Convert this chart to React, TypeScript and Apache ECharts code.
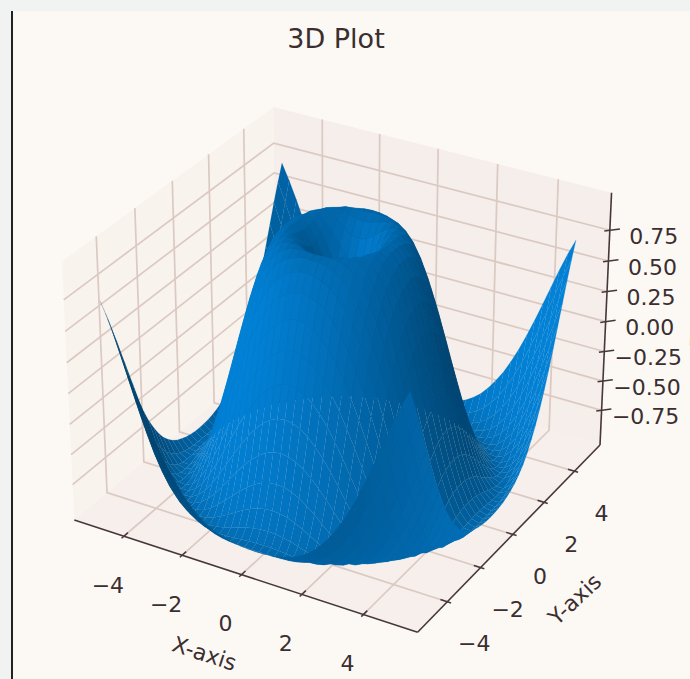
import React, { useEffect, useRef } from "react";
import * as echarts from "echarts";

const titleText = "3D Plot";
const xLabel = "X-axis";
const yLabel = "Y-axis";
const zLabel = "Z-axis";
const xTicks = [-4, -2, 0, 2, 4];
const yTicks = [-4, -2, 0, 2, 4];
const zTicks = [-0.75, -0.5, -0.25, 0, 0.25, 0.5, 0.75];
const xTickLabels = ["−4", "−2", "0", "2", "4"];
const yTickLabels = ["−4", "−2", "0", "2", "4"];
const zTickLabels = ["−0.75", "−0.50", "−0.25", "0.00", "0.25", "0.50", "0.75"];

// distance from the centre along X or Y for each row of the table below
const gridSteps = [0, 0.25, 0.5, 0.75, 1, 1.25, 1.5, 1.75, 2, 2.25, 2.5, 2.75, 3, 3.25, 3.5, 3.75, 4, 4.25, 4.5, 4.75, 5];

// surface heights read for one eighth of the (symmetric) surface: row i holds columns j = i..20
const surfaceHeights = [
  [0, 0.247, 0.479, 0.682, 0.841, 0.949, 0.997, 0.984, 0.909, 0.778, 0.598, 0.382, 0.141, -0.108, -0.351, -0.572, -0.757, -0.895, -0.978, -0.999, -0.959],
  [0.346, 0.53, 0.711, 0.857, 0.957, 0.999, 0.981, 0.903, 0.77, 0.589, 0.373, 0.131, -0.118, -0.359, -0.579, -0.762, -0.899, -0.98, -0.999, -0.957],
  [0.65, 0.784, 0.899, 0.975, 1, 0.969, 0.882, 0.742, 0.558, 0.34, 0.1, -0.146, -0.384, -0.598, -0.776, -0.908, -0.983, -0.998, -0.951],
  [0.873, 0.949, 0.994, 0.994, 0.945, 0.844, 0.696, 0.507, 0.288, 0.049, -0.192, -0.424, -0.63, -0.8, -0.922, -0.989, -0.995, -0.941],
  [0.988, 1, 0.973, 0.903, 0.787, 0.628, 0.434, 0.214, -0.021, -0.256, -0.478, -0.674, -0.831, -0.941, -0.995, -0.99, -0.925],
  [0.981, 0.928, 0.836, 0.706, 0.538, 0.34, 0.12, -0.108, -0.334, -0.544, -0.725, -0.869, -0.96, -0.999, -0.981, -0.904],
  [0.853, 0.742, 0.598, 0.425, 0.224, 0.009, -0.211, -0.424, -0.617, -0.782, -0.905, -0.98, -0.999, -0.964, -0.875],
  [0.619, 0.465, 0.288, 0.09, -0.118, -0.325, -0.521, -0.697, -0.839, -0.941, -0.993, -0.993, -0.939, -0.834],
  [0.309, 0.131, -0.06, -0.256, -0.448, -0.624, -0.776, -0.895, -0.971, -1, -0.979, -0.904, -0.784],
  [-0.04, -0.22, -0.4, -0.572, -0.725, -0.852, -0.943, -0.992, -0.995, -0.949, -0.856, -0.717],
  [-0.384, -0.544, -0.691, -0.818, -0.916, -0.98, -1, -0.976, -0.908, -0.793, -0.637],
  [-0.68, -0.8, -0.899, -0.966, -0.998, -0.99, -0.939, -0.848, -0.715, -0.545],
  [-0.892, -0.957, -0.995, -0.996, -0.959, -0.884, -0.768, -0.617, -0.436],
  [-0.993, -0.998, -0.969, -0.904, -0.804, -0.669, -0.504, -0.315],
  [-0.972, -0.914, -0.824, -0.7, -0.55, -0.374, -0.179],
  [-0.831, -0.717, -0.575, -0.41, -0.229, -0.033],
  [-0.586, -0.431, -0.258, -0.074, 0.12],
  [-0.269, -0.093, 0.091, 0.275],
  [0.081, 0.257, 0.431],
  [0.423, 0.575],
  [0.706],
];

const PAGE_W = 690;
const PAGE_H = 679;
const LIM_XY = 5.73;
const LIM_Z = 1.05;
const HX = 0.595;
const HZ = 0.446;
const SCALE = 3305;
const CX = 342;
const CY = 357;
const TEXT = "#3b2e30";
const AXIS = "#46373a";
const GRID = "#dbc9c2";
const BASE = [2, 134, 222];

type V3 = [number, number, number];

function project(x: number, y: number, z: number) {
  const wx = (x / LIM_XY) * HX;
  const wy = (y / LIM_XY) * HX;
  const wz = (z / LIM_Z) * HZ;
  const a = 0.866025 * wx + 0.5 * wy;
  const b = -0.25 * wx + 0.433013 * wy + 0.866025 * wz;
  const d = 0.433013 * wx - 0.75 * wy + 0.5 * wz;
  const w = 10 - d;
  return { X: a / w, Y: b / w, d };
}

const n = gridSteps.length;
const signedIdx: number[] = [];
for (let k = -(n - 1); k <= n - 1; k++) signedIdx.push(k);

function height(ii: number, jj: number) {
  const a = Math.abs(ii);
  const b = Math.abs(jj);
  const lo = Math.min(a, b);
  const hi = Math.max(a, b);
  return surfaceHeights[lo][hi - lo];
}
function vertex(ii: number, jj: number): V3 {
  return [Math.sign(ii) * gridSteps[Math.abs(ii)], Math.sign(jj) * gridSteps[Math.abs(jj)], height(ii, jj)];
}

type Facet = { pts: V3[]; color: string; depth: number };
const facets: Facet[] = [];
for (let p = 0; p < signedIdx.length - 1; p++) {
  for (let q = 0; q < signedIdx.length - 1; q++) {
    const pts = [
      vertex(signedIdx[p], signedIdx[q]),
      vertex(signedIdx[p + 1], signedIdx[q]),
      vertex(signedIdx[p + 1], signedIdx[q + 1]),
      vertex(signedIdx[p], signedIdx[q + 1]),
    ];
    const d1 = [pts[2][0] - pts[0][0], pts[2][1] - pts[0][1], pts[2][2] - pts[0][2]];
    const d2 = [pts[3][0] - pts[1][0], pts[3][1] - pts[1][1], pts[3][2] - pts[1][2]];
    let nx = d1[1] * d2[2] - d1[2] * d2[1];
    let ny = d1[2] * d2[0] - d1[0] * d2[2];
    let nz = d1[0] * d2[1] - d1[1] * d2[0];
    if (nz < 0) {
      nx = -nx;
      ny = -ny;
      nz = -nz;
    }
    const len = Math.hypot(nx, ny, nz) || 1;
    const shade = (-0.6667 * nx - 0.6667 * ny + 0.3333 * nz) / len;
    const f = 0.3 + 0.7 * ((shade + 1) / 2);
    const color = `rgb(${Math.round(BASE[0] * f)},${Math.round(BASE[1] * f)},${Math.round(BASE[2] * f)})`;
    let depth = 0;
    for (const v of pts) depth += project(v[0], v[1], v[2]).d;
    facets.push({ pts, color, depth });
  }
}
facets.sort((u, v) => u.depth - v.depth);

const L = LIM_XY;
const Z = LIM_Z;
const panes: { pts: V3[]; color: string }[] = [
  { pts: [[-L, -L, -Z], [-L, L, -Z], [-L, L, Z], [-L, -L, Z]], color: "#f9f3ee" },
  { pts: [[-L, L, -Z], [L, L, -Z], [L, L, Z], [-L, L, Z]], color: "#f5eeea" },
  { pts: [[-L, -L, -Z], [L, -L, -Z], [L, L, -Z], [-L, L, -Z]], color: "#f6efeb" },
];

const gridLines: V3[][] = [];
for (const x of xTicks) gridLines.push([[x, -L, -Z], [x, L, -Z], [x, L, Z]]);
for (const y of yTicks) gridLines.push([[L, y, -Z], [-L, y, -Z], [-L, y, Z]]);
for (const z of zTicks) gridLines.push([[-L, -L, z], [-L, L, z], [L, L, z]]);

const axisEdges: V3[][] = [
  [[-L, -L, -Z], [L, -L, -Z]],
  [[L, -L, -Z], [L, L, -Z]],
  [[L, L, -Z], [L, L, Z]],
];
const tickSegs: V3[][] = [];
for (const x of xTicks) tickSegs.push([[x, -L - 0.12, -Z], [x, -L + 0.22, -Z]]);
for (const y of yTicks) tickSegs.push([[L - 0.22, y, -Z], [L + 0.12, y, -Z]]);
for (const z of zTicks) tickSegs.push([[L - 0.12, L - 0.12, z], [L + 0.22, L + 0.22, z]]);

const FS = 22;
type Lbl = { p: V3; dx: number; dy: number; text: string; rot: number };
const labels: Lbl[] = [];
xTicks.forEach((x, i) => labels.push({ p: [x, -L, -Z], dx: -16, dy: 49, text: xTickLabels[i], rot: 0 }));
yTicks.forEach((y, i) => labels.push({ p: [L, y, -Z], dx: 27, dy: 42, text: yTickLabels[i], rot: 0 }));
zTicks.forEach((z, i) => labels.push({ p: [L, L, z], dx: 44, dy: 6, text: zTickLabels[i], rot: 0 }));
labels.push({ p: [0, -L, -Z], dx: -37, dy: 79, text: xLabel, rot: (-18 * Math.PI) / 180 });
labels.push({ p: [L, 0, -Z], dx: 62, dy: 65, text: yLabel, rot: (43 * Math.PI) / 180 });
labels.push({ p: [L, L, 0], dx: 94, dy: -8, text: zLabel, rot: (88 * Math.PI) / 180 });

function proj2(api: any, v: V3) {
  const p = project(v[0], v[1], v[2]);
  return api.coord([p.X, p.Y]);
}

export default function App() {
  const ref = useRef<HTMLDivElement>(null);
  useEffect(() => {
    document.body.style.margin = "0";
    const chart = echarts.init(ref.current!, undefined, { renderer: "svg" });
    const lineSeries = (list: V3[][], color: string, width: number, z: number) => ({
      type: "custom",
      coordinateSystem: "cartesian2d",
      z,
      silent: true,
      clip: false,
      data: list.map((_, i) => [0, 0, i]),
      encode: { x: 0, y: 1 },
      renderItem: (params: any, api: any) => ({
        type: "polyline",
        shape: { points: list[params.dataIndex].map((v) => proj2(api, v)) },
        style: { stroke: color, lineWidth: width, fill: "none" },
      }),
    });
    chart.setOption({
      animation: false,
      backgroundColor: "#fcf9f5",
      title: {
        text: titleText,
        left: 331,
        top: 20,
        textAlign: "center",
        textStyle: { fontFamily: "DejaVu Sans", fontSize: 27, fontWeight: "normal", color: TEXT },
      },
      grid: { left: 0, right: 0, top: 0, bottom: 0 },
      xAxis: { type: "value", show: false, min: (0 - CX) / SCALE, max: (PAGE_W - CX) / SCALE },
      yAxis: { type: "value", show: false, min: (CY - PAGE_H) / SCALE, max: CY / SCALE },
      graphic: [
        { type: "rect", shape: { x: 0, y: 0, width: PAGE_W, height: 11 }, style: { fill: "#f1f3f3" } },
        { type: "rect", shape: { x: 0, y: 0, width: 11, height: PAGE_H }, style: { fill: "#f1f3f3" } },
        { type: "rect", shape: { x: 11, y: 11, width: 2, height: PAGE_H - 11 }, style: { fill: "#222222" } },
      ],
      series: [
        {
          type: "custom",
          coordinateSystem: "cartesian2d",
          z: 1,
          silent: true,
          clip: false,
          data: panes.map((_, i) => [0, 0, i]),
          encode: { x: 0, y: 1 },
          renderItem: (params: any, api: any) => ({
            type: "polygon",
            shape: { points: panes[params.dataIndex].pts.map((v) => proj2(api, v)) },
            style: { fill: panes[params.dataIndex].color },
          }),
        },
        lineSeries(gridLines, GRID, 1.7, 2),
        lineSeries(axisEdges, AXIS, 1.6, 3),
        lineSeries(tickSegs, AXIS, 1.5, 3),
        {
          type: "custom",
          coordinateSystem: "cartesian2d",
          z: 4,
          silent: true,
          clip: false,
          data: facets.map((_, i) => [0, 0, i]),
          encode: { x: 0, y: 1 },
          renderItem: (params: any, api: any) => {
            const f = facets[params.dataIndex];
            return {
              type: "polygon",
              shape: { points: f.pts.map((v) => proj2(api, v)) },
              style: { fill: f.color, stroke: f.color, lineWidth: 0.15 },
            };
          },
        },
        {
          type: "custom",
          coordinateSystem: "cartesian2d",
          z: 5,
          silent: true,
          clip: false,
          data: labels.map((_, i) => [0, 0, i]),
          encode: { x: 0, y: 1 },
          renderItem: (params: any, api: any) => {
            const l = labels[params.dataIndex];
            const c = proj2(api, l.p);
            return {
              type: "text",
              x: c[0] + l.dx,
              y: c[1] + l.dy,
              rotation: l.rot,
              style: {
                text: l.text,
                fill: TEXT,
                font: `${FS}px "DejaVu Sans"`,
                textAlign: "center",
                textVerticalAlign: "middle",
              },
            };
          },
        },
      ],
    });
    return () => chart.dispose();
  }, []);
  return <div ref={ref} style={{ width: PAGE_W, height: PAGE_H, overflow: "hidden" }} />;
}
